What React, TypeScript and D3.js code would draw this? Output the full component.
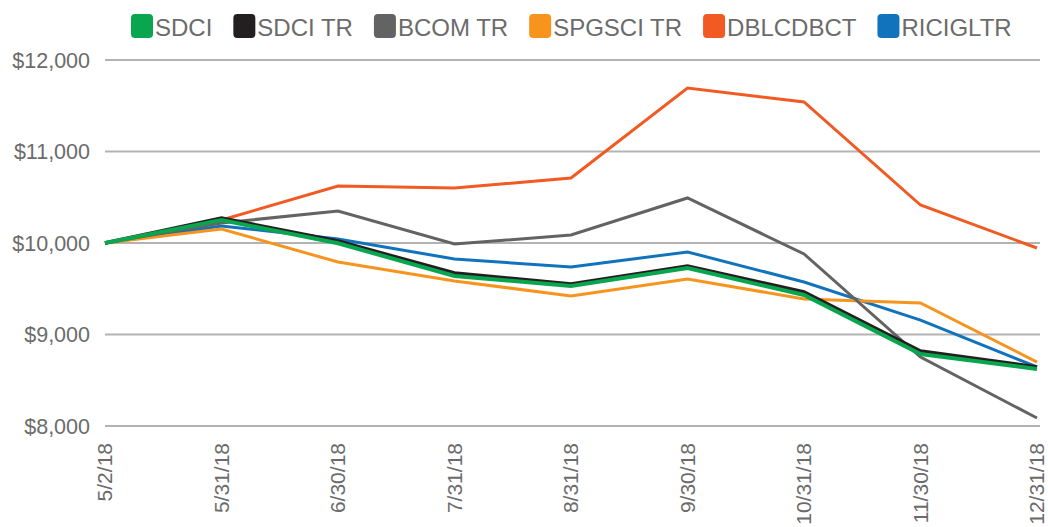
import * as React from 'react';
import * as d3 from 'd3';

const dates = ['5/2/18', '5/31/18', '6/30/18', '7/31/18', '8/31/18', '9/30/18', '10/31/18', '11/30/18', '12/31/18'];

const sdci = [10000, 10251, 9997, 9639, 9530, 9727, 9432, 8787, 8623];
const sdciTr = [10000, 10273, 10022, 9672, 9552, 9749, 9465, 8820, 8645];
const bcomTr = [10000, 10219, 10350, 9989, 10087, 10492, 9880, 8754, 8087];
const spgsciTr = [10000, 10153, 9792, 9585, 9421, 9607, 9388, 9344, 8699];
const dblcdbct = [10000, 10251, 10623, 10601, 10710, 11694, 11541, 10415, 9945];
const riciglt = [10000, 10186, 10044, 9825, 9738, 9902, 9574, 9158, 8645];

const yTicks = [8000, 9000, 10000, 11000, 12000];

const seriesNames = ['SDCI', 'SDCI TR', 'BCOM TR', 'SPGSCI TR', 'DBLCDBCT', 'RICIGLTR'];
const seriesValues = [sdci, sdciTr, bcomTr, spgsciTr, dblcdbct, riciglt];
const seriesColors = ['#0aa64f', '#231f20', '#636363', '#f7941d', '#f15a22', '#1273bd'];
const seriesWidths = [4, 3.5, 3, 3, 3, 3];
const drawOrder = [5, 3, 4, 2, 1, 0];

const W = 1048, H = 527;
const margin = { left: 105, right: 11, top: 60, bottom: 101 };
const font = '"Liberation Sans", Arial, sans-serif';
const textColor = '#6b6b6b';

export default function App() {
  const svgRef = React.useRef<SVGSVGElement>(null);

  React.useEffect(() => {
    const svg = d3.select(svgRef.current);
    svg.selectAll('*').remove();

    const x = d3.scalePoint<string>()
      .domain(dates)
      .range([margin.left, W - margin.right]);

    const y = d3.scaleLinear()
      .domain([8000, 12000])
      .range([H - margin.bottom, margin.top]);

    // gridlines
    svg.append('g')
      .selectAll('line')
      .data(yTicks)
      .enter()
      .append('line')
      .attr('x1', margin.left)
      .attr('x2', W - margin.right + 3)
      .attr('y1', d => y(d))
      .attr('y2', d => y(d))
      .attr('stroke', '#b3b3b3')
      .attr('stroke-width', 2);

    // y labels
    svg.append('g')
      .selectAll('text')
      .data(yTicks)
      .enter()
      .append('text')
      .attr('x', 90)
      .attr('y', d => y(d))
      .attr('dy', '0.35em')
      .attr('text-anchor', 'end')
      .attr('font-family', font)
      .attr('font-size', 21.5)
      .attr('fill', textColor)
      .text(d => '$' + d3.format(',')(d));

    // x labels
    svg.append('g')
      .selectAll('text')
      .data(dates)
      .enter()
      .append('text')
      .attr('transform', d => `translate(${(x(d) || 0) + 7}, 443) rotate(-90)`)
      .attr('text-anchor', 'end')
      .attr('font-family', font)
      .attr('font-size', 21)
      .attr('fill', textColor)
      .text(d => d);

    // lines
    const line = d3.line<number>()
      .x((_d, i) => x(dates[i]) || 0)
      .y(d => y(d));

    svg.append('g')
      .selectAll('path')
      .data(drawOrder)
      .enter()
      .append('path')
      .attr('d', i => line(seriesValues[i]) || '')
      .attr('fill', 'none')
      .attr('stroke', i => seriesColors[i])
      .attr('stroke-width', i => seriesWidths[i])
      .attr('stroke-linejoin', 'miter');

    // legend
    const legend = svg.append('g');
    let lx = 131;
    seriesNames.forEach((name, i) => {
      legend.append('rect')
        .attr('x', lx)
        .attr('y', 14)
        .attr('width', 22)
        .attr('height', 24)
        .attr('rx', 4)
        .attr('fill', seriesColors[i]);
      const t = legend.append('text')
        .attr('x', lx + 24)
        .attr('y', 36)
        .attr('font-family', font)
        .attr('font-size', 24)
        .attr('fill', textColor)
        .text(name);
      const len = (t.node() as SVGTextElement).getComputedTextLength();
      lx += 24 + len + 21;
    });
  }, []);

  return (
    <svg
      ref={svgRef}
      width={W}
      height={H}
      style={{ position: 'absolute', left: 0, top: 0, background: '#fff' }}
    />
  );
}
